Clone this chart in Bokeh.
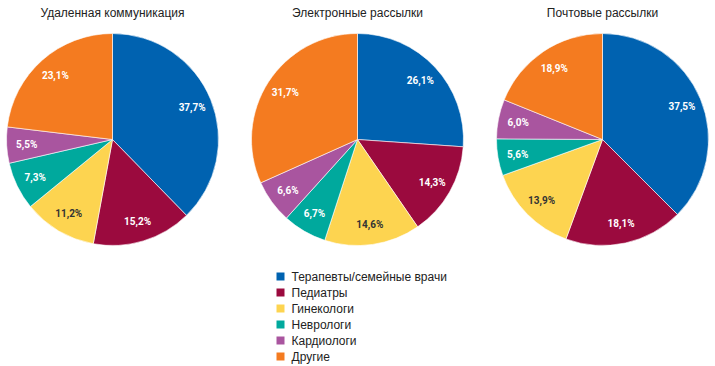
import numpy as np
from bokeh.plotting import figure
from bokeh.models import Range1d, ColumnDataSource
from bokeh.core.properties import value
from bokeh.embed import file_html
from bokeh.resources import INLINE

categories = ["Терапевты/семейные врачи", "Педиатры", "Гинекологи",
              "Неврологи", "Кардиологи", "Другие"]
colors = ["#0062b0", "#9b0a3e", "#fdd450", "#00a99d", "#a9559f", "#f47b20"]
label_colors = ["white", "white", "#333333", "white", "white", "white"]

titles = ["Удаленная коммуникация", "Электронные рассылки", "Почтовые рассылки"]
remote = [37.7, 15.2, 11.2, 7.3, 5.5, 23.1]
email = [26.1, 14.3, 14.6, 6.7, 6.6, 31.7]
mail = [37.5, 18.1, 13.9, 5.6, 6.0, 18.9]
series = [remote, email, mail]

W, H = 715, 366
p = figure(width=W, height=H, x_range=Range1d(0, W), y_range=Range1d(0, H),
           output_backend="svg", toolbar_location=None, min_border=0)
p.axis.visible = False
p.grid.visible = False
p.outline_line_color = None
p.background_fill_color = "white"

centers_x = [112, 357, 602]
center_y = 227
R = 106
RL = 86

for cx, title, vals in zip(centers_x, titles, series):
    v = np.array(vals, dtype=float)
    frac = v / v.sum()
    cum = np.concatenate([[0], np.cumsum(frac)])
    start = np.pi / 2 - 2 * np.pi * cum[:-1]
    end = np.pi / 2 - 2 * np.pi * cum[1:]
    mid = (start + end) / 2
    src = ColumnDataSource(dict(
        start=start, end=end, color=colors,
        lx=cx + RL * np.cos(mid), ly=center_y + RL * np.sin(mid),
        lab=[("%.1f%%" % x).replace(".", ",") for x in vals],
        lc=label_colors,
    ))
    p.wedge(x=cx, y=center_y, radius=R, start_angle="start", end_angle="end",
            direction="clock", fill_color="color", line_color="white",
            line_width=0.6, source=src)
    p.text(x="lx", y="ly", text="lab", text_color="lc", source=src,
           text_font=value("Roboto"), text_font_style="bold",
           text_font_size="10px", text_align="center", text_baseline="middle")
    p.text(x=[cx], y=[354], text=[title], text_font=value("Liberation Sans"),
           text_font_size="12px", text_color="#222222",
           text_align="center", text_baseline="middle")

ly = [90 - 16 * i for i in range(len(categories))]
p.scatter(x=[280] * len(categories), y=ly, marker="square", size=8,
          fill_color=colors, line_color=None)
p.text(x=[291] * len(categories), y=ly, text=categories,
       text_font=value("Liberation Sans"), text_font_size="12px",
       text_color="#222222", text_align="left", text_baseline="middle")

open("out.html", "w").write(file_html(p, INLINE))
